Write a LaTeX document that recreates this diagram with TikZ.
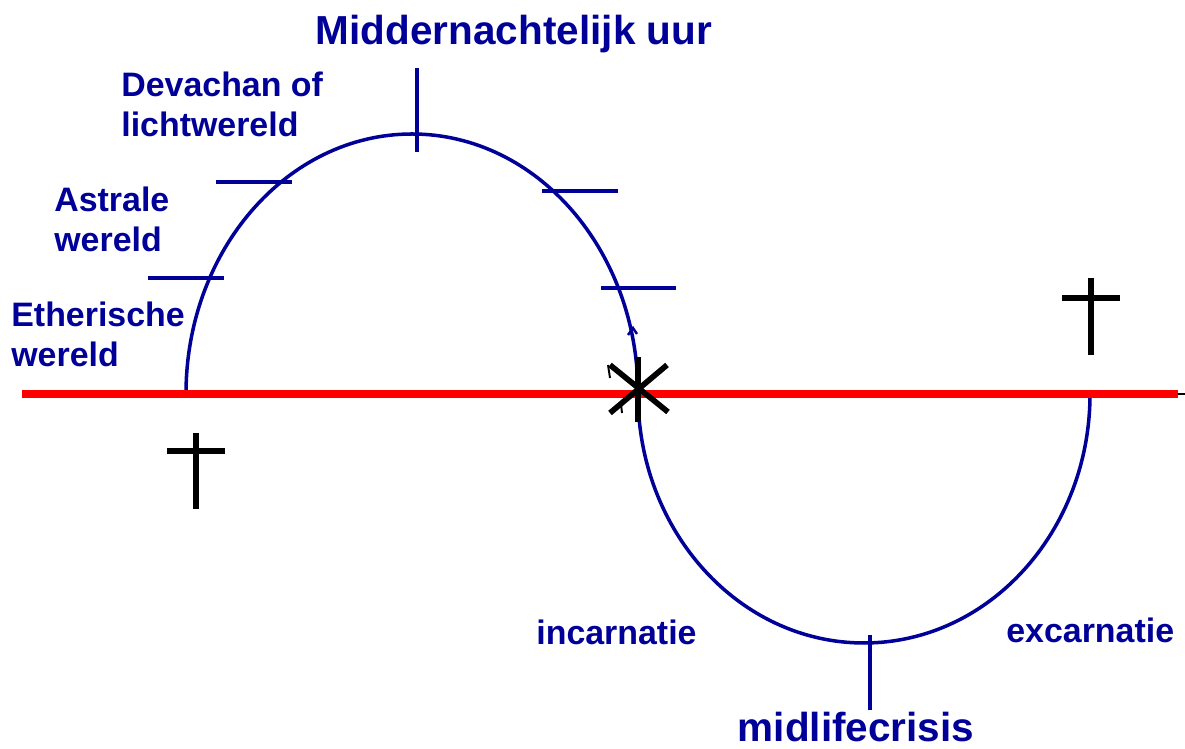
\documentclass[tikz,border=0pt]{standalone}
\usepackage{fontspec}
\setmainfont{Liberation Sans}
\usepackage{tikz}
\usepackage{xcolor}
\definecolor{navy}{RGB}{0,0,153}

\begin{document}
\begin{tikzpicture}[x=0.02cm,y=0.02cm,line cap=butt,
  curve/.style={navy,line width=2pt},
  tick/.style={navy,line width=2.5pt},
  cross/.style={black,line width=3.2pt},
  lbl/.style={navy,inner sep=0pt,font=\fontsize{19.3}{22.76}\selectfont\bfseries},
  biglbl/.style={navy,inner sep=0pt,font=\fontsize{23.05}{27}\selectfont\bfseries}]
\useasboundingbox (0,0) rectangle (1185,749);
% the two arcs
\draw[curve] (186,355) arc[start angle=180,end angle=0,x radius=226,y radius=260];
\draw[curve] (638,355) arc[start angle=180,end angle=360,x radius=226,y radius=249];
\draw[navy,line width=1.4pt] (628,414) -- (633,421) -- (637,415);
% the horizon
\draw[red,line width=4.8pt] (22,355) -- (1178,355);
\draw[black,line width=0.9pt] (1178,355) -- (1185,355);
% marks on the arcs
\draw[tick] (216,567) -- (292,567);
\draw[tick] (148,471) -- (224,471);
\draw[tick] (542,558) -- (618,558);
\draw[tick] (601,461) -- (676,461);
\draw[navy,line width=2pt] (417,681) -- (417,597);
\draw[navy,line width=2pt] (870,114) -- (870,39);
% crosses
\draw[cross] (196,316) -- (196,240);
\draw[cross] (167,298) -- (225,298);
\draw[cross] (1091,471) -- (1091,394);
\draw[cross] (1062,451) -- (1120,451);
% birth star
\draw[cross] (638,392) -- (638,327);
\draw[cross] (610,384) -- (668,337);
\draw[cross] (610,336) -- (667,384);
\draw[black,line width=1.1pt] (608,384) -- (610,371);
\draw[black,line width=1.1pt] (615,341) -- (621,345) -- (622,336);
% labels
\node[biglbl,anchor=base] (midnight) at (514,704) {Middernachtelijk uur};
\node[lbl,anchor=north west,align=left] (devachan) at (121,677) {Devachan of\\lichtwereld};
\node[lbl,anchor=north west,align=left] (astral) at (54,562) {Astrale\\wereld};
\node[lbl,anchor=north west,align=left] (ether) at (11,447) {Etherische\\wereld};
\node[lbl,anchor=base west] (incarn) at (536,104) {incarnatie};
\node[lbl,anchor=base west] (excarn) at (1006,106) {excarnatie};
\node[biglbl,anchor=base] (midlife) at (856,7) {midlifecrisis};
\end{tikzpicture}
\end{document}
